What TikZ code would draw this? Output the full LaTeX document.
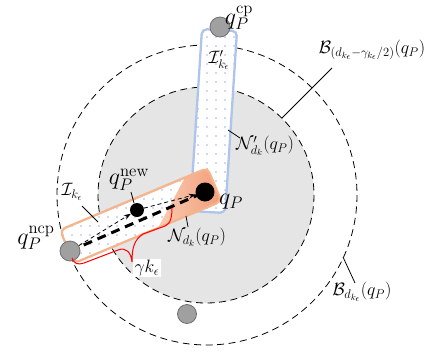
\documentclass[tikz,border=0pt]{standalone}
\usepackage{fix-cm}
\usetikzlibrary{patterns.meta,arrows.meta}
\definecolor{ringgray}{HTML}{E5E5E5}
\definecolor{blueedge}{HTML}{AFC4EA}
\definecolor{orangeedge}{HTML}{F4B48E}
\definecolor{wedgelight}{HTML}{F9CDB3}
\definecolor{wedgedark}{HTML}{F29C78}
\definecolor{dotblue}{HTML}{3A5FCC}
\definecolor{ptgray}{HTML}{A0A0A0}
\definecolor{ptedge}{HTML}{707070}
\tikzset{
  ringline/.style={draw=black, line width=0.8bp, dash pattern=on 7bp off 4.5bp},
  dotfill/.style={pattern={Dots[distance=9bp,radius=0.7bp]}, pattern color=dotblue},
  blackpt/.style={circle, fill=black, inner sep=0pt},
  graypt/.style={circle, fill=ptgray, draw=ptedge, line width=0.8bp, inner sep=0pt, minimum size=20bp},
  lbl/.style={inner sep=0pt, font=\fontsize{18}{20}\selectfont},
  qlbl/.style={inner sep=0pt, font=\fontsize{24}{26}\selectfont},
  leader/.style={draw=black, line width=0.8bp},
  thickdash/.style={line width=3bp, dash pattern=on 9bp off 6bp},
  thindash/.style={line width=0.8bp, dash pattern=on 4bp off 3bp, -{Stealth[length=7bp,width=5bp]}},
}
\begin{document}
\begin{tikzpicture}[x=1bp,y=-1bp]
\useasboundingbox (0,0) rectangle (431,352);
% balls
\draw[ringline] (207,195) circle[radius=150];
\draw[ringline, fill=ringgray] (206,195) circle[radius=108];
% blue corridor
\path[fill=white] (202,29) -- (237,31) -- (225.2,213) -- (190.2,211) -- cycle;
\path[dotfill] (202,29) -- (237,31) -- (225.2,213) -- (190.2,211) -- cycle;
\draw[blueedge, line width=2.3bp, rounded corners=5bp] (202,29) -- (237,31) -- (225.2,213) -- (190.2,211) -- cycle;
% orange corridor
\path[fill=white] (60,230) -- (207.5,168.1) -- (221.4,201.3) -- (73.9,263.2) -- cycle;
\path[dotfill] (60,230) -- (207.5,168.1) -- (221.4,201.3) -- (73.9,263.2) -- cycle;
\path[left color=wedgelight, right color=wedgedark] (185,177.5) -- (207.5,168.1) -- (221.4,201.3) -- (158,227.9) -- cycle;
\draw[orangeedge, line width=2.3bp, rounded corners=5bp] (60,230) -- (207.5,168.1) -- (221.4,201.3) -- (73.9,263.2) -- cycle;
% points
\coordinate (P) at (205,192);
\coordinate (ncp) at (70,251);
\coordinate (new) at (137,210);
\coordinate (cp) at (220,27);
% paths
\draw[thickdash] (ncp) -- (P);
\node[blackpt, minimum size=14bp] (newpt) at (new) {};
\node[blackpt, minimum size=19bp] (Ppt) at (P) {};
\node[graypt] (ncppt) at (ncp) {};
\node[graypt] (cppt) at (cp) {};
\node[graypt, minimum size=19bp] (other) at (187,314) {};
\draw[thindash] (ncppt) -- (newpt);
\draw[thindash] (newpt) -- (Ppt);
% red brace
\draw[red, line width=1bp] (72,258) .. controls (74,264) and (78,265) .. (84,263) -- (118,250) .. controls (126,247) and (131,252) .. (132,262)
  .. controls (132,248) and (134,240) .. (143,234) -- (165,226) .. controls (171,224) and (172,215) .. (172,208);
% labels
\node[qlbl] (lcp) at (239,18) {$q_P^{\mathrm{cp}}$};
\node[lbl] (lIp) at (219,60) {$\mathcal{I}'_{k_\epsilon}$};
\node[lbl] (lBmid) at (372,50) {$\mathcal{B}_{(d_{k_\epsilon}-\gamma_{k_\epsilon}/2)}(q_P)$};
\node[lbl] (lNp) at (265,146) {$\mathcal{N}'_{d_k}(q_P)$};
\node[lbl] (lI) at (72,192) {$\mathcal{I}_{k_\epsilon}$};
\node[qlbl] (lnew) at (129,180) {$q_P^{\mathrm{new}}$};
\node[qlbl] (lncp) at (36,238) {$q_P^{\mathrm{ncp}}$};
\node[qlbl] (lP) at (231,202) {$q_P$};
\node[lbl] (lN) at (197,237) {$\mathcal{N}_{d_k}(q_P)$};
\node[lbl] (lB) at (362,292) {$\mathcal{B}_{d_{k_\epsilon}}(q_P)$};
\node[lbl, fill=white, inner sep=1.5bp] (lg) at (147,268) {$\gamma k_\epsilon$};
% leaders
\coordinate (a1) at (332,68); \coordinate (a2) at (282,118);
\coordinate (b1) at (228,130); \coordinate (b2) at (240,138);
\coordinate (c1) at (82,206); \coordinate (c2) at (98,222);
\coordinate (d1) at (131,192); \coordinate (d2) at (134,203);
\coordinate (e1) at (186,216); \coordinate (e2) at (188,227);
\coordinate (f1) at (343,257); \coordinate (f2) at (355,283);
\draw[leader] (a1) -- (a2);
\draw[leader] (b1) -- (b2);
\draw[leader] (c1) -- (c2);
\draw[leader] (d1) -- (d2);
\draw[leader] (e1) -- (e2);
\draw[leader] (f1) -- (f2);
\end{tikzpicture}
\end{document}
